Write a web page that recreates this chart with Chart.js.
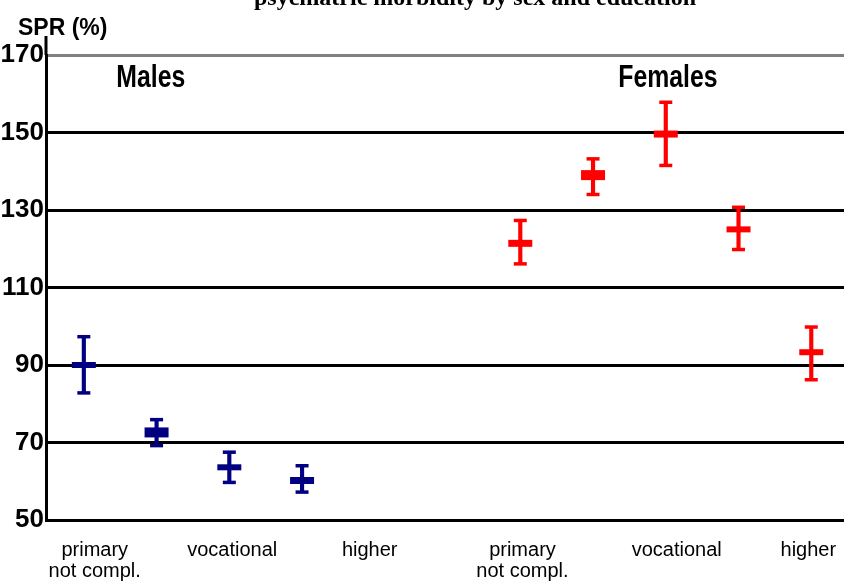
<!DOCTYPE html>
<html lang="en">
<head>
<meta charset="UTF-8" />
<title>Psychiatric morbidity by sex and education</title>
<script src="https://cdn.jsdelivr.net/npm/chart.js"></script>
<style>
  body { margin: 0; background: #fff; }
  #wrap { width: 844px; height: 583px; }
</style>
</head>
<body>
<div id="wrap"><canvas id="spr" width="844" height="583"></canvas></div>
<script>
  // standardised prevalence ratios (%) with 95% limits
  const maleX = [0, 1, 2, 3];
  const maleSPR = [90.0, 72.6, 63.6, 60.2];
  const maleLow = [82.8, 69.2, 59.7, 57.2];
  const maleHigh = [97.3, 75.9, 67.5, 64.0];

  const femaleX = [6, 7, 8, 9, 10];
  const femaleSPR = [121.4, 139.0, 149.6, 125.0, 93.3];
  const femaleLow = [116.1, 134.0, 141.5, 119.8, 86.2];
  const femaleHigh = [127.3, 143.2, 157.8, 130.7, 99.8];

  const eduTickX = [0.15, 2.04, 3.93, 6.03, 8.15, 9.96];
  const eduLabels = [['primary', 'not compl.'], 'vocational', 'higher', ['primary', 'not compl.'], 'vocational', 'higher'];
  const yTicks = [50, 70, 90, 110, 130, 150, 170];
  const groupNames = ['Males', 'Females'];

  const NAVY = '#000080';
  const RED = '#ff0000';

  function pts(xs, ys) {
    return xs.map((x, i) => ({ x: x, y: ys[i] }));
  }

  function groupSets(xs, mid, lo, hi, color, midWidths) {
    return [
      {
        type: 'bar',
        data: xs.map((x, i) => ({ x: x, y: [lo[i], hi[i]] })),
        backgroundColor: color,
        barThickness: 3.5,
        grouped: false
      },
      {
        type: 'scatter',
        data: pts(xs, lo).concat(pts(xs, hi)),
        pointStyle: 'line',
        pointRadius: 6.5,
        pointBorderWidth: 3.5,
        borderColor: color,
        showLine: false
      },
      {
        type: 'scatter',
        data: pts(xs, mid),
        pointStyle: 'line',
        pointRadius: 12,
        pointBorderWidth: midWidths,
        borderColor: color,
        showLine: false
      }
    ];
  }

  const annotate = {
    id: 'annotate',
    afterDraw(chart) {
      const ctx = chart.ctx;
      const x = chart.scales.x, y = chart.scales.y;
      const area = chart.chartArea;
      const groupAt = [[0.92, 164], [8.03, 164]];
      ctx.save();
      // axis line runs a little above the top gridline
      ctx.strokeStyle = '#000';
      ctx.lineWidth = 3;
      ctx.beginPath();
      ctx.moveTo(area.left, area.top);
      ctx.lineTo(area.left, 36);
      ctx.stroke();

      ctx.fillStyle = '#000';
      ctx.textAlign = 'center';
      ctx.textBaseline = 'alphabetic';
      ctx.font = 'bold 24px "Liberation Serif", serif';
      ctx.fillText('psychiatric morbidity by sex and education', 475, 5);
      ctx.textAlign = 'left';
      ctx.font = 'bold 23px "Liberation Sans", Arial, sans-serif';
      ctx.fillText('SPR (%)', 18, 35);
      ctx.textAlign = 'center';
      ctx.textBaseline = 'middle';
      ctx.font = 'bold 31px "Liberation Sans", Arial, sans-serif';
      groupNames.forEach((name, i) => {
        const px = x.getPixelForValue(groupAt[i][0]);
        const py = y.getPixelForValue(groupAt[i][1]);
        ctx.save();
        ctx.translate(px, py);
        ctx.scale(0.8, 1);
        ctx.fillText(name, 0, 0);
        ctx.restore();
      });
      ctx.restore();
    }
  };

  new Chart(document.getElementById('spr'), {
    type: 'scatter',
    data: {
      datasets: groupSets(maleX, maleSPR, maleLow, maleHigh, NAVY, [6, 10, 6, 7])
        .concat(groupSets(femaleX, femaleSPR, femaleLow, femaleHigh, RED, [7, 10, 7, 6, 6]))
    },
    options: {
      responsive: false,
      animation: false,
      layout: { autoPadding: false, padding: { top: 55, right: 0, left: 0, bottom: 0 } },
      plugins: { legend: { display: false }, tooltip: { enabled: false }, title: { display: false } },
      scales: {
        x: {
          type: 'linear',
          offset: false,
          min: -0.52,
          max: 10.45,
          grid: { display: false, drawTicks: false, offset: false },
          border: { color: '#000', width: 3 },
          afterBuildTicks: (scale) => { scale.ticks = eduTickX.map(v => ({ value: v })); },
          afterFit: (scale) => { scale.height = 63; scale.paddingLeft = 0; scale.paddingRight = 0; },
          ticks: {
            autoSkip: false,
            maxRotation: 0,
            padding: 20,
            color: '#000',
            font: { family: '"Liberation Sans", Arial, sans-serif', size: 20, lineHeight: 1.05 },
            callback: (v) => eduLabels[eduTickX.indexOf(v)]
          }
        },
        y: {
          type: 'linear',
          min: 50,
          max: 170,
          afterBuildTicks: (scale) => { scale.ticks = yTicks.map(v => ({ value: v })); },
          afterFit: (scale) => { scale.width = 46; },
          grid: {
            drawTicks: false,
            lineWidth: 3,
            color: (c) => (c.tick && c.tick.value === 170 ? '#808080' : '#000')
          },
          border: { color: '#000', width: 3 },
          ticks: {
            padding: 2,
            color: '#000',
            font: { family: '"Liberation Sans", Arial, sans-serif', size: 26, weight: 'bold' }
          }
        }
      }
    },
    plugins: [annotate]
  });
</script>
</body>
</html>
